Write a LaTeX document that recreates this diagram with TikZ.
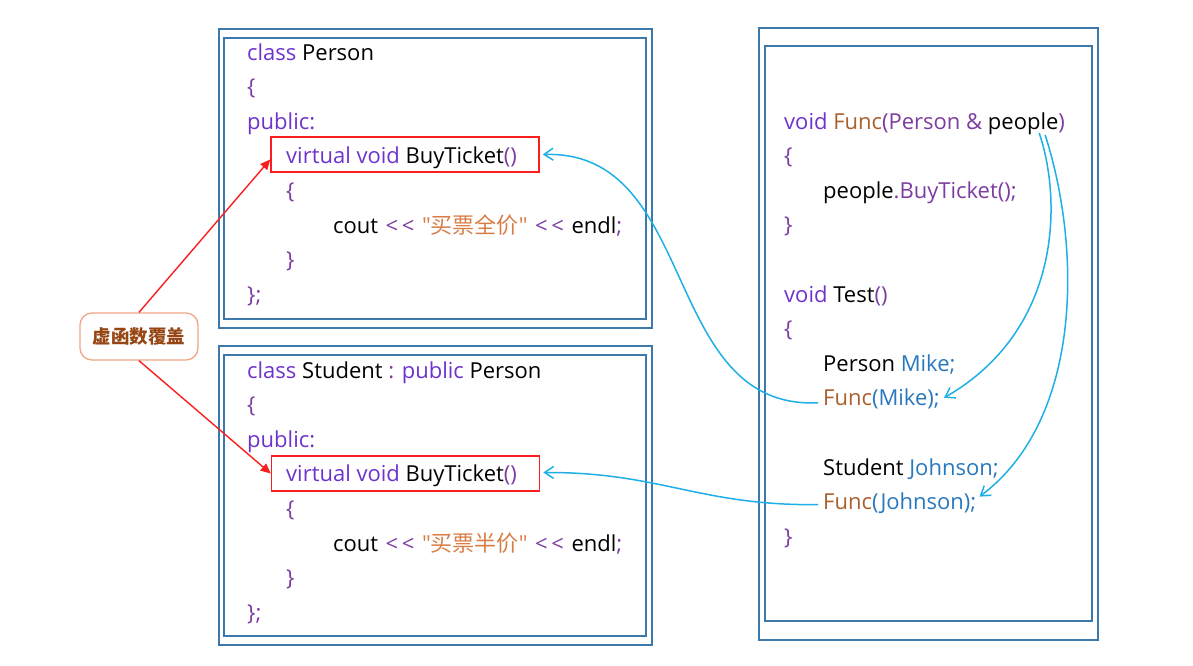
\documentclass[tikz,border=0pt]{standalone}
\usepackage{fontspec}
\setmainfont{Open Sans}
\newfontfamily\codefont{Open Sans}
\newfontfamily\cjk{Noto Sans CJK SC}
\usetikzlibrary{arrows.meta}

\definecolor{boxblue}{RGB}{60,120,170}
\definecolor{kw}{RGB}{110,50,205}
\definecolor{punc}{RGB}{125,60,160}
\definecolor{fn}{RGB}{170,95,45}
\definecolor{strc}{RGB}{215,125,70}
\definecolor{varc}{RGB}{40,120,190}
\definecolor{callblue}{RGB}{30,175,230}
\definecolor{overred}{RGB}{250,30,30}
\definecolor{tagline}{RGB}{240,165,135}
\definecolor{tagtext}{RGB}{150,70,20}

\newcommand{\kw}[1]{\textcolor{kw}{#1}}
\newcommand{\pu}[1]{\textcolor{punc}{#1}}
\newcommand{\gap}{\hspace{7.5pt}}

\begin{document}
\begin{tikzpicture}[
  x=1pt, y=1pt,
  code/.style={anchor=base west, inner sep=0pt, font=\codefont\fontsize{22}{24}\selectfont},
  frame/.style={draw=boxblue, line width=1.6pt},
  redbox/.style={draw=overred, line width=1.6pt, minimum width=268pt, minimum height=35pt, inner sep=0pt},
  tag/.style={draw=tagline, line width=1.3pt, rounded corners=12pt, minimum width=118pt, minimum height=47pt,
              text=tagtext, font=\cjk\bfseries\fontsize{18.5}{20}\selectfont},
  overarrow/.style={draw=overred, line width=1.4pt, -{Triangle[length=10pt,width=9pt]}},
  callarrow/.style={draw=callblue, line width=1.5pt, -{Straight Barb[length=9pt,width=12pt]}}
]
\useasboundingbox (0,0) rectangle (1193,-665);

% ---- TOP LEFT: class Person ----
\draw[frame] (219,-29) rectangle (652,-328);
\draw[frame] (224,-38) rectangle (646,-319);
\node[redbox] (vbox1) at (405,-154.5) {};
\node[code] (pcls)  at (247,-60)    {\kw{class} Person};
\node[code] (pbr1)  at (247,-94.6)  {\pu{\{}};
\node[code] (ppub)  at (247,-129.2) {\kw{public:}};
\node[code] (pvirt) at (286,-163.8) {\kw{virtual void} BuyTicket\pu{()}};
\node[code] (pbr2)  at (286,-198.4) {\pu{\{}};
\node[code] (pcout) at (333,-233)   {cout\gap\pu{<\,<}\gap\textcolor{strc}{"{\cjk 买票全价}"}\gap\pu{<\,<}\gap endl\pu{;}};
\node[code] (pbr3)  at (286,-267.6) {\pu{\}}};
\node[code] (pend)  at (247,-302.2) {\pu{\};}};

% ---- BOTTOM LEFT: class Student ----
\draw[frame] (219,-346) rectangle (652,-645);
\draw[frame] (224,-355) rectangle (646,-636);
\node[redbox] (vbox2) at (405.5,-473.5) {};
\node[code] (scls)  at (247,-378)   {\kw{class} Student \pu{:} \kw{public} Person};
\node[code] (sbr1)  at (247,-412.6) {\pu{\{}};
\node[code] (spub)  at (247,-447.2) {\kw{public:}};
\node[code] (svirt) at (286,-481.8) {\kw{virtual void} BuyTicket\pu{()}};
\node[code] (sbr2)  at (286,-516.4) {\pu{\{}};
\node[code] (scout) at (333,-551)   {cout\gap\pu{<\,<}\gap\textcolor{strc}{"{\cjk 买票半价}"}\gap\pu{<\,<}\gap endl\pu{;}};
\node[code] (sbr3)  at (286,-585.6) {\pu{\}}};
\node[code] (send)  at (247,-620.2) {\pu{\};}};

% ---- RIGHT: Func and Test ----
\draw[frame] (759,-28) rectangle (1098,-640);
\draw[frame] (765,-46) rectangle (1092,-621);
\node[code] (funcdef)  at (784,-129)   {\kw{void} \textcolor{fn}{Func}\pu{(Person \& }people\pu{)}};
\node[code] (fbr1)     at (784,-163.6) {\pu{\{}};
\node[code] (fcall)    at (823,-198.2) {people\pu{.BuyTicket();}};
\node[code] (fbr2)     at (784,-232.8) {\pu{\}}};
\node[code] (testdef)  at (784,-302)   {\kw{void} Test\pu{()}};
\node[code] (tbr1)     at (784,-336.6) {\pu{\{}};
\node[code] (mike)     at (823,-371.2) {Person \textcolor{varc}{Mike;}};
\node[code] (funcmike) at (823,-405.8) {\textcolor{fn}{Func}\textcolor{varc}{(Mike);}};
\node[code] (john)     at (823,-475)   {Student \textcolor{varc}{Johnson;}};
\node[code] (funcjohn) at (823,-509.6) {\textcolor{fn}{Func}\textcolor{varc}{(Johnson);}};
\node[code] (tbr2)     at (784,-544.2) {\pu{\}}};

% ---- Label and override arrows ----
\node[tag] (over) at (139,-336.5) {虚函数覆盖};
\draw[overarrow] (over.north) -- ([yshift=-5pt]vbox1.west);
\draw[overarrow] (over.south) -- (vbox2.west);

% ---- Call arrows ----
\draw[callarrow] ([xshift=-5pt,yshift=3pt]funcmike.base west)
  .. controls (660,-410) and (700,-150) .. ([xshift=3pt]vbox1.east);
\draw[callarrow] ([xshift=-5pt,yshift=5pt]funcjohn.base west)
  .. controls (700,-506) and (660,-472) .. ([xshift=3pt,yshift=1pt]vbox2.east);
\draw[callarrow] ([xshift=-26pt,yshift=-4pt]funcdef.base east)
  .. controls (1062,-200) and (1062,-330) .. ([xshift=4pt,yshift=8pt]funcmike.base east);
\draw[callarrow] ([xshift=-20pt,yshift=-6pt]funcdef.base east)
  .. controls (1082,-250) and (1082,-420) .. ([xshift=3pt,yshift=13pt]funcjohn.base east);
\end{tikzpicture}
\end{document}
